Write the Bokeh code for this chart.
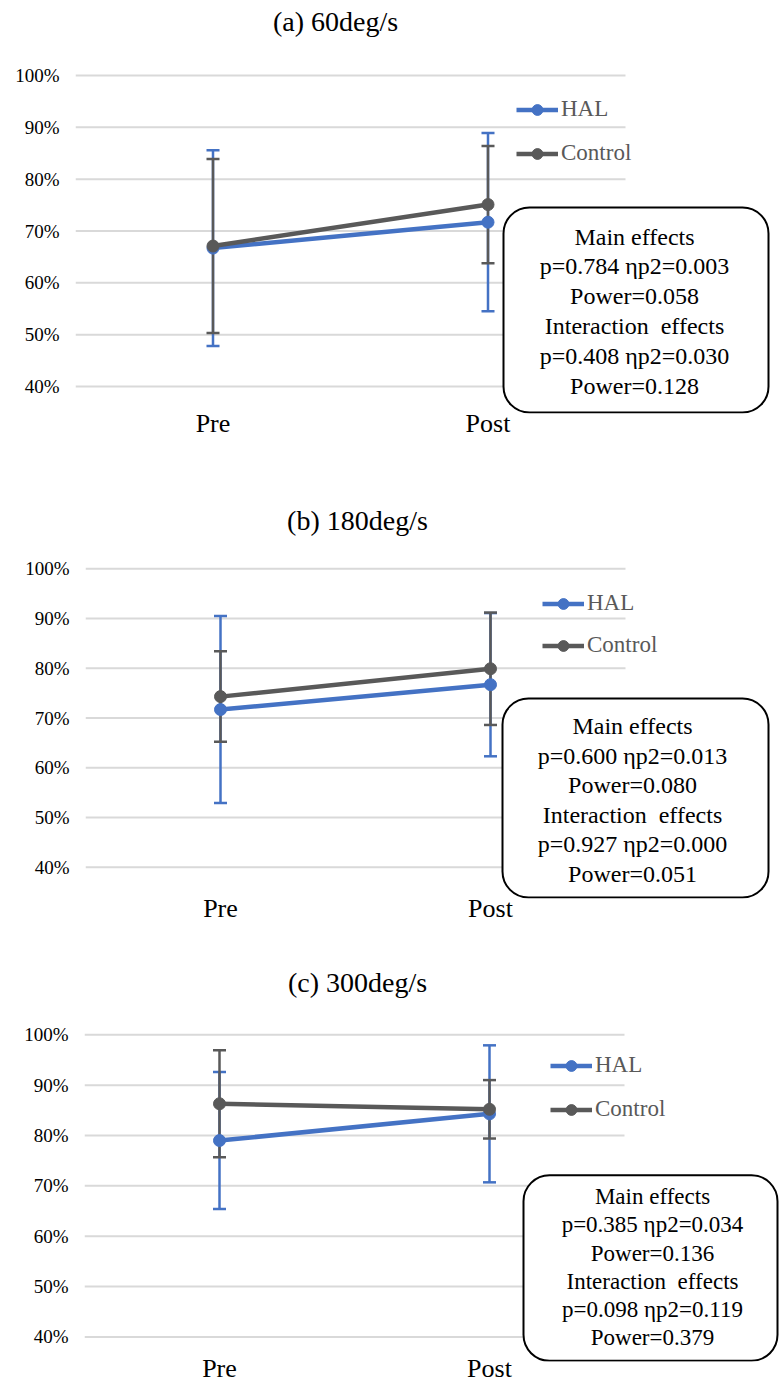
from bokeh.plotting import figure
from bokeh.layouts import column, row
from bokeh.models import (Range1d, FixedTicker, PrintfTickFormatter, Legend, LegendItem,
                          BoxAnnotation, Label, Spacer)
from bokeh.embed import file_html
from bokeh.resources import INLINE

# ---- data -------------------------------------------------------------
phases = ["Pre", "Post"]
y_ticks = [40, 50, 60, 70, 80, 90, 100]
groups = ["HAL", "Control"]

# mean and SD (% of reference value), Pre / Post
hal_60_mean = [66.7, 71.7]
hal_60_sd = [18.9, 17.2]
ctrl_60_mean = [67.1, 75.1]
ctrl_60_sd = [16.8, 11.3]

hal_180_mean = [71.7, 76.7]
hal_180_sd = [18.8, 14.4]
ctrl_180_mean = [74.3, 79.9]
ctrl_180_sd = [9.1, 11.3]

hal_300_mean = [79.0, 84.3]
hal_300_sd = [13.6, 13.6]
ctrl_300_mean = [86.3, 85.2]
ctrl_300_sd = [10.6, 5.8]

titles = ["(a) 60deg/s", "(b) 180deg/s", "(c) 300deg/s"]

stats_60 = ["Main effects", "p=0.784 ηp2=0.003", "Power=0.058",
            "Interaction\u00a0 effects", "p=0.408 ηp2=0.030", "Power=0.128"]
stats_180 = ["Main effects", "p=0.600 ηp2=0.013", "Power=0.080",
             "Interaction\u00a0 effects", "p=0.927 ηp2=0.000", "Power=0.051"]
stats_300 = ["Main effects", "p=0.385 ηp2=0.034", "Power=0.136",
             "Interaction\u00a0 effects", "p=0.098 ηp2=0.119", "Power=0.379"]

# ---- styling ------------------------------------------------------------
BLUE = "#4472C4"
GRAY = "#595959"
GRID = "#D9D9D9"
SERIF = "'Liberation Serif', 'Times New Roman', serif"
PAGE_W = 779
AXIS_W = 75   # width reserved for the percentage labels

# page-level geometry (px) of each panel
panels = [
    dict(top=0, height=463, shift=0, grid_left=75, grid_right=625, y100=75, y40=386,
         frame_bottom=413, xlabel_standoff=-5,
         title_xy=(335, 21), box=(503, 768, 207, 412), text_x=634, text_y0=236, text_dy=29.8,
         legend_x=516, legend_y=109, legend_gap=44, text_size="24px"),
    dict(top=463, height=464, shift=10, grid_left=85, grid_right=625, y100=568.3, y40=866.7,
         frame_bottom=898, xlabel_standoff=-5,
         title_xy=(357, 520), box=(502, 768, 698, 897), text_x=632, text_y0=725.7, text_dy=29.5,
         legend_x=542, legend_y=603.3, legend_gap=41.7, text_size="24px"),
    dict(top=927, height=458, shift=9, grid_left=84, grid_right=624, y100=1035, y40=1339.3,
         frame_bottom=1364, xlabel_standoff=-8,
         title_xy=(357, 982), box=(523, 777, 1176.5, 1363.3), text_x=652, text_y0=1198, text_dy=28.4,
         legend_x=550, legend_y=1068.3, legend_gap=44, text_size="23px"),
]

series = [
    (hal_60_mean, hal_60_sd, ctrl_60_mean, ctrl_60_sd, stats_60),
    (hal_180_mean, hal_180_sd, ctrl_180_mean, ctrl_180_sd, stats_180),
    (hal_300_mean, hal_300_sd, ctrl_300_mean, ctrl_300_sd, stats_300),
]


def make_panel(geo, title, hal_m, hal_s, ctl_m, ctl_s, stats):
    H = geo["height"]
    top = geo["top"]
    gl, gr = geo["grid_left"], geo["grid_right"]
    sx = (gr - gl) / 2.0                       # px per category step
    sy = (geo["y40"] - geo["y100"]) / 60.0     # px per percent
    fb = geo["frame_bottom"] - top             # frame bottom inside the panel

    def xd(px):
        return -0.5 + (px - gl) / sx

    def yd(py):
        return 100 - (py - geo["y100"]) / sy

    width = PAGE_W - geo["shift"]
    p = figure(width=width, height=H, title=None, toolbar_location=None,
               output_backend="svg",
               x_range=Range1d(-0.5, xd(PAGE_W)),
               y_range=Range1d(yd(geo["frame_bottom"]), yd(top)),
               min_border_left=AXIS_W, min_border_right=0, min_border_top=0,
               min_border_bottom=H - fb)
    p.outline_line_color = None
    p.xgrid.visible = False
    p.ygrid.visible = False
    p.background_fill_color = "white"
    p.border_fill_color = "white"

    # axes
    p.yaxis.ticker = FixedTicker(ticks=y_ticks)
    p.yaxis.formatter = PrintfTickFormatter(format="%d%%")
    p.xaxis.ticker = FixedTicker(ticks=list(range(len(phases))))
    p.xaxis.major_label_overrides = {i: name for i, name in enumerate(phases)}
    for ax in (p.xaxis, p.yaxis):
        ax.axis_line_color = None
        ax.major_tick_line_color = None
        ax.minor_tick_line_color = None
        ax.major_tick_out = 0
        ax.major_tick_in = 0
        ax.minor_tick_out = 0
        ax.major_label_text_font = SERIF
        ax.major_label_text_color = "black"
    p.yaxis.major_label_text_font_size = "19px"
    p.yaxis.major_label_standoff = 16
    p.xaxis.major_label_text_font_size = "26px"
    p.xaxis.major_label_standoff = geo["xlabel_standoff"]

    # horizontal gridlines across the two category bands
    n = len(y_ticks)
    p.segment(x0=[-0.5] * n, x1=[len(phases) - 0.5] * n, y0=y_ticks, y1=y_ticks,
              line_color=GRID, line_width=2)

    xs = list(range(len(phases)))

    # error bars (mean ± SD)
    def error_bars(means, sds, color):
        lo = [m - s for m, s in zip(means, sds)]
        hi = [m + s for m, s in zip(means, sds)]
        p.segment(x0=xs, x1=xs, y0=lo, y1=hi, line_color=color, line_width=2.5)
        p.scatter(x=xs + xs, y=lo + hi, marker="dash", size=13,
                  line_color=color, line_width=2.5)

    error_bars(hal_m, hal_s, BLUE)
    error_bars(ctl_m, ctl_s, GRAY)

    hal_line = p.line(xs, hal_m, line_color=BLUE, line_width=4.5)
    hal_pts = p.scatter(xs, hal_m, size=12, fill_color=BLUE, line_color=BLUE)
    ctl_line = p.line(xs, ctl_m, line_color=GRAY, line_width=4.5)
    ctl_pts = p.scatter(xs, ctl_m, size=12, fill_color=GRAY, line_color=GRAY)

    # legend
    item_h = 27
    legend = Legend(items=[LegendItem(label=groups[0], renderers=[hal_line, hal_pts]),
                           LegendItem(label=groups[1], renderers=[ctl_line, ctl_pts])])
    legend.glyph_width = 42
    legend.glyph_height = item_h
    legend.label_height = item_h
    legend.label_standoff = 3
    legend.spacing = int(round(geo["legend_gap"] - item_h))
    legend.padding = 0
    legend.margin = 0
    legend.border_line_color = None
    legend.background_fill_alpha = 0
    legend.label_text_font = SERIF
    legend.label_text_font_size = "23px"
    legend.label_text_color = GRAY
    leg_top = geo["legend_y"] - item_h / 2.0
    leg_bottom = leg_top + 2 * item_h + legend.spacing
    legend.location = (geo["legend_x"] - gl, geo["frame_bottom"] - leg_bottom)
    p.add_layout(legend)

    # title
    p.add_layout(Label(x=xd(geo["title_xy"][0]), y=yd(geo["title_xy"][1]), text=title,
                       text_align="center", text_baseline="middle",
                       text_font=SERIF, text_font_size="28px", text_color="black"))

    # statistics box
    bl, br, bt, bb = geo["box"]
    p.add_layout(BoxAnnotation(left=xd(bl), right=xd(br), top=yd(bt), bottom=yd(bb),
                               fill_color="white", fill_alpha=1.0,
                               line_color="black", line_width=2, line_alpha=1.0,
                               border_radius=26))
    for i, line in enumerate(stats):
        p.add_layout(Label(x=xd(geo["text_x"]), y=yd(geo["text_y0"] + i * geo["text_dy"]),
                           text=line, text_align="center", text_baseline="middle",
                           text_font=SERIF, text_font_size=geo["text_size"],
                           text_color="black"))

    if geo["shift"]:
        return row(Spacer(width=geo["shift"], height=H), p, spacing=0)
    return p


parts = [make_panel(g, t, *s) for g, t, s in zip(panels, titles, series)]
layout = column(*parts, spacing=0)

open("out.html", "w").write(file_html(layout, INLINE))
